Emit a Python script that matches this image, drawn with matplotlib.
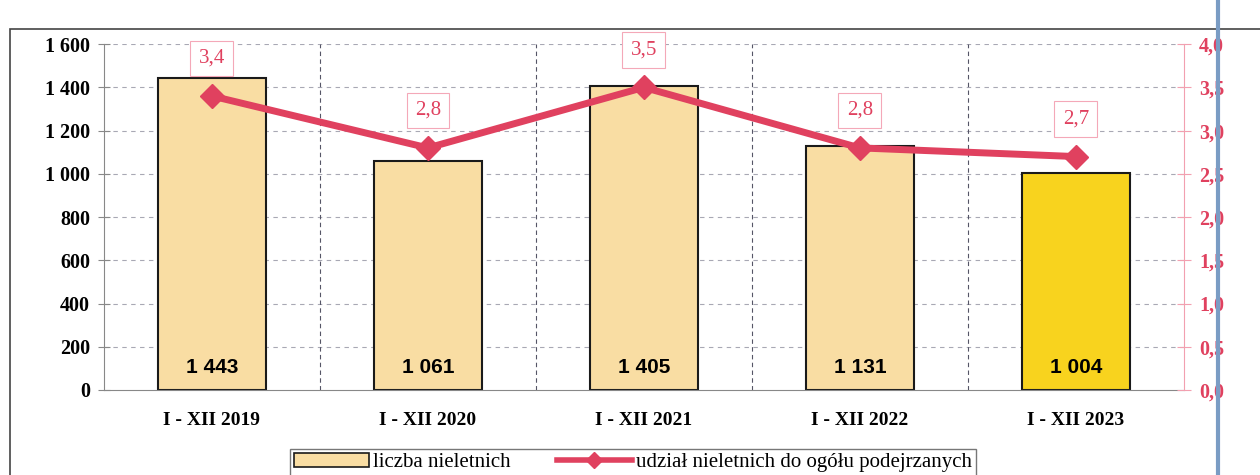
import matplotlib
matplotlib.use('Agg')
import matplotlib.pyplot as plt
from matplotlib.patches import Rectangle
from matplotlib.lines import Line2D

categories = ['I - XII 2019', 'I - XII 2020', 'I - XII 2021', 'I - XII 2022', 'I - XII 2023']
counts = [1443, 1061, 1405, 1131, 1004]
shares = [3.4, 2.8, 3.5, 2.8, 2.7]
left_ticks = [0, 200, 400, 600, 800, 1000, 1200, 1400, 1600]
right_ticks = [0.0, 0.5, 1.0, 1.5, 2.0, 2.5, 3.0, 3.5, 4.0]

bar_color = '#F9DDA3'
last_color = '#F8D31E'
red = '#E0415F'
serif = 'Liberation Serif'

def fmt_num(v):
    s = '{:,}'.format(v).replace(',', ' ')
    return s

fig = plt.figure(figsize=(12.6, 4.75), dpi=100)
ax = fig.add_axes([0.0825, 0.179, 0.857, 0.728])

x = list(range(len(categories)))
colors = [bar_color] * (len(counts) - 1) + [last_color]
ax.bar(x, counts, width=0.5, color=colors, edgecolor='#1a1a1a', linewidth=1.5, zorder=2)
for xi, v in zip(x, counts):
    ax.text(xi, 105, fmt_num(v), ha='center', va='center', fontsize=15,
            fontweight='bold', family='Liberation Sans', zorder=3)

ax.set_xlim(-0.5, len(categories) - 0.5)
ax.set_ylim(0, 1600)
ax.set_yticks(left_ticks)
ax.set_yticklabels([fmt_num(t) for t in left_ticks], family=serif, fontweight='bold', fontsize=14.5)
ax.set_xticks(x)
ax.set_xticklabels(categories, family=serif, fontweight='bold', fontsize=14)
ax.tick_params(axis='x', length=0, pad=16)
ax.tick_params(axis='y', direction='inout', length=8, color='#888888', pad=6)
for t in left_ticks[1:]:
    ax.axhline(t, color='#a8a8b4', linestyle=(0, (4, 4)), linewidth=0.8, zorder=0)
for xv in [0.5, 1.5, 2.5, 3.5]:
    ax.axvline(xv, color='#555566', linestyle=(0, (4, 3)), linewidth=0.8, zorder=0)
ax.spines['top'].set_visible(False)
ax.spines['right'].set_visible(False)
ax.spines['left'].set_color('#888888')
ax.spines['bottom'].set_color('#888888')

ax2 = ax.twinx()
ax2.set_ylim(0, 4.0)
ax2.set_yticks(right_ticks)
ax2.set_yticklabels([('%.1f' % t).replace('.', ',') for t in right_ticks],
                    family=serif, fontweight='bold', fontsize=14.5, color=red)
ax2.tick_params(axis='y', direction='inout', length=10, color='#F2A0B0', pad=6)
for s in ['top', 'left', 'bottom']:
    ax2.spines[s].set_visible(False)
ax2.spines['right'].set_color('#F2A0B0')
ax2.plot(x, shares, color=red, linewidth=5, marker='D', markersize=12, zorder=4)
for xi, v in zip(x, shares):
    ax2.annotate(('%.1f' % v).replace('.', ','), (xi, v), xytext=(0, 27),
                 textcoords='offset points', ha='center', va='center',
                 fontsize=15, family=serif, color=red,
                 bbox=dict(boxstyle='square,pad=0.4', fc='white', ec='#F4A8B8', lw=0.8))

handles = [Rectangle((0, 0), 1, 1, fc=bar_color, ec='#1a1a1a', lw=1.2),
           Line2D([0], [0], color=red, lw=4, marker='D', markersize=8)]
labels = ['liczba nieletnich', 'udział nieletnich do ogółu podejrzanych']
fig.legend(handles, labels, loc='lower left', bbox_to_anchor=(0.222, -0.025), ncol=2,
           frameon=True, fancybox=False, edgecolor='#555555', prop={'family': serif, 'size': 15},
           handlelength=3.6, handletextpad=0.2, columnspacing=2.2, borderpad=0.2)

# frame and scan edges
fig.add_artist(Rectangle((0.008, -0.01), 1.1, 0.948, transform=fig.transFigure,
                         fill=False, ec='#444444', lw=1.2))
fig.add_artist(Line2D([0.967, 0.967], [0, 1], transform=fig.transFigure, color='#7a9cc4', lw=3))

fig.savefig('out.png', dpi=100)
